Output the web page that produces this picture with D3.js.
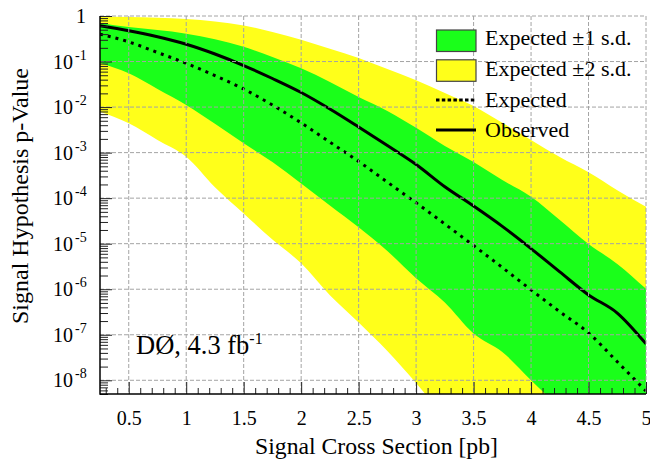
<!DOCTYPE html>
<html>
<head>
<meta charset="utf-8">
<script src="https://cdn.jsdelivr.net/npm/d3@7"></script>
<style>
  body { margin: 0; background: #fff; }
  text { font-family: "Liberation Serif", "Times New Roman", serif; fill: #000; }
</style>
</head>
<body>
<svg id="chart" width="650" height="459"></svg>
<script>
// Signal cross section points [pb]
const crossSection = [0.25, 0.5, 0.75, 1, 1.25, 1.5, 1.75, 2, 2.25, 2.5,
                      2.75, 3, 3.25, 3.5, 3.75, 4, 4.25, 4.5, 4.75, 5];
// Observed p-value
const observed = [0.61, 0.475, 0.35, 0.24, 0.1465, 0.0818, 0.0424, 0.0209, 9.07e-3, 3.65e-3,
                  1.43e-3, 5.48e-4, 1.78e-4, 6.7e-5, 2.4e-5, 7.8e-6, 2.4e-6, 7.5e-7, 3.0e-7, 6.3e-8];
// Median expected p-value
const expected = [0.40, 0.27, 0.158, 0.0915, 0.049, 0.0249, 0.0111, 4.5e-3, 1.7e-3, 6.4e-4,
                  2.25e-4, 7.9e-5, 2.7e-5, 9.1e-6, 3.0e-6, 9.7e-7, 3.2e-7, 1.1e-7, 2.55e-8, 5.8e-9];
// ±1 s.d. band edges
const band1High = [0.70, 0.57, 0.49, 0.41, 0.31, 0.21, 0.126, 0.071, 0.0356, 0.0166,
                   8.2e-3, 3.5e-3, 1.4e-3, 6.2e-4, 2.5e-4, 1.07e-4, 3.3e-5, 9.8e-6, 3.6e-6, 1.02e-6];
const band1Low  = [0.093, 0.055, 0.025, 0.0111, 4.3e-3, 1.6e-3, 6.2e-4, 2.1e-4, 6.9e-5, 2.3e-5,
                   6.9e-6, 1.74e-6, 5.1e-7, 1.07e-7, 4.2e-8, 1.0e-8, 2.5e-9, 6e-10, 1.5e-10, 4e-11];
// ±2 s.d. band edges
const band2High = [0.975, 0.95, 0.913, 0.859, 0.757, 0.618, 0.445, 0.30, 0.19, 0.12,
                   0.0686, 0.039, 0.0204, 0.0106, 4.5e-3, 1.9e-3, 8.0e-4, 3.7e-4, 1.5e-4, 6.5e-5];
const band2Low  = [7.9e-3, 4.4e-3, 1.9e-3, 8.1e-4, 1.74e-4, 4.6e-5, 1.23e-5, 3.7e-6, 7.4e-7, 1.86e-7,
                   4.4e-8, 8.7e-9, 1.5e-9, 3e-10, 6e-11, 1.2e-11, 3e-12, 1e-12, 1e-13, 1e-13];

const xMajorTicks = [0.5, 1, 1.5, 2, 2.5, 3, 3.5, 4, 4.5, 5];
const xTickLabels = ["0.5", "1", "1.5", "2", "2.5", "3", "3.5", "4", "4.5", "5"];
const yDecadeExponents = [0, -1, -2, -3, -4, -5, -6, -7, -8];

const legendEntries = [
  { label: "Expected \u00b11 s.d.", kind: "box", color: "#1aff1a" },
  { label: "Expected \u00b12 s.d.", kind: "box", color: "#ffff1a" },
  { label: "Expected", kind: "dotted" },
  { label: "Observed", kind: "solid" }
];

const GREEN = "#1aff1a", YELLOW = "#ffff1a";
const frame = { left: 100, right: 646, top: 16, bottom: 394 };

const svg = d3.select("#chart");
const x = d3.scaleLinear().domain([0.25, 5]).range([frame.left, frame.right]);
const y = d3.scaleLog().domain([5e-9, 1]).range([frame.bottom, frame.top]);
const curve = d3.curveMonotoneX;

svg.append("defs").append("clipPath").attr("id", "plotClip")
  .append("rect")
  .attr("x", frame.left).attr("y", frame.top)
  .attr("width", frame.right - frame.left).attr("height", frame.bottom - frame.top);

const rows = crossSection.map((c, i) => ({
  c, obs: observed[i], exp: expected[i],
  h1: band1High[i], l1: band1Low[i], h2: band2High[i], l2: band2Low[i]
}));

const plot = svg.append("g").attr("clip-path", "url(#plotClip)");

// bands
plot.append("path").datum(rows)
  .attr("fill", YELLOW)
  .attr("d", d3.area().curve(curve).x(d => x(d.c)).y0(d => y(d.l2)).y1(d => y(d.h2)));
plot.append("path").datum(rows)
  .attr("fill", GREEN)
  .attr("d", d3.area().curve(curve).x(d => x(d.c)).y0(d => y(d.l1)).y1(d => y(d.h1)));

// grid
const grid = svg.append("g").attr("stroke", "#a4a4a4").attr("stroke-width", 1)
  .attr("stroke-dasharray", "4,2").attr("fill", "none");
grid.selectAll("line.gx").data(xMajorTicks).join("line")
  .attr("x1", d => x(d)).attr("x2", d => x(d))
  .attr("y1", frame.top).attr("y2", frame.bottom);
grid.selectAll("line.gy").data(yDecadeExponents).join("line")
  .attr("x1", frame.left).attr("x2", frame.right)
  .attr("y1", d => y(Math.pow(10, d))).attr("y2", d => y(Math.pow(10, d)));

// curves
plot.append("path").datum(rows)
  .attr("fill", "none").attr("stroke", "#000").attr("stroke-width", 3)
  .attr("stroke-dasharray", "3,5")
  .attr("d", d3.line().curve(curve).x(d => x(d.c)).y(d => y(d.exp)));
plot.append("path").datum(rows)
  .attr("fill", "none").attr("stroke", "#000").attr("stroke-width", 3)
  .attr("d", d3.line().curve(curve).x(d => x(d.c)).y(d => y(d.obs)));

// x axis ticks (inward)
const xMinor = d3.range(3, 50).map(v => v / 10).filter(v => Math.abs(v * 2 - Math.round(v * 2)) > 1e-6);
svg.append("g").attr("transform", `translate(0,${frame.bottom})`)
  .call(d3.axisBottom(x).tickValues(xMinor).tickSize(-6).tickFormat("").tickSizeOuter(0))
  .call(g => g.select(".domain").remove())
  .call(g => g.selectAll(".tick line").attr("stroke", "#222"));
const xAxisMajor = svg.append("g").attr("transform", `translate(0,${frame.bottom})`)
  .call(d3.axisBottom(x).tickValues(xMajorTicks).tickSize(-12).tickPadding(17)
    .tickFormat((d, i) => xTickLabels[i]).tickSizeOuter(0));
xAxisMajor.select(".domain").remove();
xAxisMajor.selectAll(".tick line").attr("stroke", "#222");
xAxisMajor.selectAll(".tick text")
  .attr("font-size", 20).attr("font-family", '"Liberation Serif", serif').attr("fill", "#000");

// y axis ticks (inward)
const yMinor = [];
for (let e = -9; e < 0; e++) for (let k = 2; k <= 9; k++) {
  const v = k * Math.pow(10, e);
  if (v >= 5e-9 && v <= 1) yMinor.push(v);
}
svg.append("g").attr("transform", `translate(${frame.left},0)`)
  .call(d3.axisLeft(y).tickValues(yMinor).tickSize(-8).tickFormat("").tickSizeOuter(0))
  .call(g => g.select(".domain").remove())
  .call(g => g.selectAll(".tick line").attr("stroke", "#222"));
svg.append("g").attr("transform", `translate(${frame.left},0)`)
  .call(d3.axisLeft(y).tickValues(yDecadeExponents.map(e => Math.pow(10, e))).tickSize(-12).tickFormat("").tickSizeOuter(0))
  .call(g => g.select(".domain").remove())
  .call(g => g.selectAll(".tick line").attr("stroke", "#222"));

// y tick labels as powers of ten
const yLab = svg.append("g");
yDecadeExponents.forEach(e => {
  const yy = y(Math.pow(10, e));
  if (e === 0) {
    yLab.append("text").attr("x", 81).attr("y", yy + 6.5)
      .attr("text-anchor", "middle").attr("font-size", 20).text("1");
  } else {
    const t = yLab.append("text").attr("x", 53).attr("y", yy + 7).attr("font-size", 20);
    t.append("tspan").text("10");
    t.append("tspan").attr("dx", 2).attr("dy", -9).attr("font-size", 14).text("-" + (-e));
  }
});

// axis lines
svg.append("line").attr("x1", frame.left).attr("x2", frame.left)
  .attr("y1", frame.top).attr("y2", frame.bottom + 0.75)
  .attr("stroke", "#000").attr("stroke-width", 1.5);
svg.append("line").attr("x1", frame.left).attr("x2", frame.right)
  .attr("y1", frame.bottom).attr("y2", frame.bottom)
  .attr("stroke", "#000").attr("stroke-width", 1.5);

// axis titles
svg.append("text").attr("x", 376.5).attr("y", 454).attr("text-anchor", "middle")
  .attr("font-size", 23.7).text("Signal Cross Section [pb]");
svg.append("text").attr("transform", "translate(28,196) rotate(-90)")
  .attr("text-anchor", "middle").attr("font-size", 24).text("Signal Hypothesis p-Value");

// experiment label
const dz = svg.append("text").attr("x", 136).attr("y", 354).attr("font-size", 26.5);
dz.append("tspan").text("D\u00d8, 4.3 fb");
dz.append("tspan").attr("dy", -10).attr("font-size", 16).text("-1");

// legend
const leg = svg.append("g");
legendEntries.forEach((d, i) => {
  const cy = 40.5 + i * 29.8;
  if (d.kind === "box") {
    leg.append("rect").attr("x", 436.5).attr("y", cy - 10.5).attr("width", 39.5).attr("height", 21.5)
      .attr("fill", d.color).attr("stroke", "#444").attr("stroke-width", 1.2);
  } else {
    leg.append("line").attr("x1", 436).attr("x2", 476).attr("y1", cy).attr("y2", cy)
      .attr("stroke", "#000").attr("stroke-width", 3)
      .attr("stroke-dasharray", d.kind === "dotted" ? "3.5,2.3" : null);
  }
  leg.append("text").attr("x", 485).attr("y", 45 + i * 30.8)
    .attr("font-size", 22).text(d.label);
});
</script>
</body>
</html>
